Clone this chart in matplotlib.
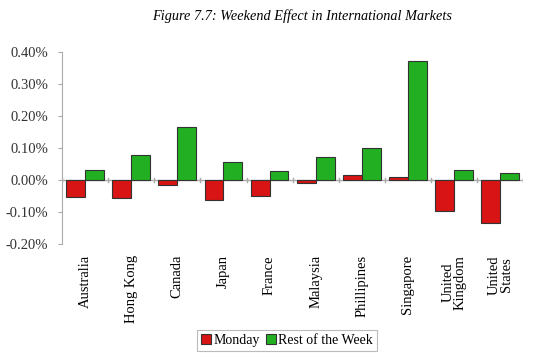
import numpy as np
import matplotlib
matplotlib.use("Agg")
import matplotlib.pyplot as plt
from matplotlib.ticker import FuncFormatter

plt.rcParams["font.family"] = ["Liberation Serif", "DejaVu Serif"]

countries = ["Australia", "Hong Kong", "Canada", "Japan", "France", "Malaysia",
             "Phillipines", "Singapore", "United\nKingdom", "United\nStates"]
monday = [-0.053, -0.057, -0.017, -0.061, -0.050, -0.010, 0.017, 0.009, -0.096, -0.135]
rest_week = [0.032, 0.079, 0.165, 0.056, 0.028, 0.072, 0.100, 0.371, 0.030, 0.021]

RED = "#d81414"; GREEN = "#22b022"; EDGE = "#333333"; GRAY = "#aaaaaa"

fig = plt.figure(figsize=(5.35, 3.62), dpi=100)
ax = fig.add_axes([0.116, 0.326, 0.862, 0.53])
x = np.arange(len(countries)); w = 0.41
ax.bar(x - w/2, monday, w, color=RED, edgecolor=EDGE, linewidth=0.8, label="Monday", zorder=3)
ax.bar(x + w/2, rest_week, w, color=GREEN, edgecolor=EDGE, linewidth=0.8, label="Rest of the Week", zorder=3)
ax.axhline(0, color=GRAY, lw=1, zorder=2)
ax.set_xlim(-0.5, len(countries) - 0.5)
ax.set_ylim(-0.2, 0.4)
ax.set_yticks(np.arange(-0.2, 0.41, 0.1))
ax.yaxis.set_major_formatter(FuncFormatter(lambda v, _: f"{v:.2f}%".replace("\u2212", "-")))
ax.set_xticks(x)
ax.set_xticklabels(countries, rotation=90, va="top", ha="center", fontsize=10.5, linespacing=0.95)
ax.tick_params(axis="x", length=0, pad=8)
ax.tick_params(axis="y", labelsize=10.5, colors="#333333", length=3, color=GRAY, pad=7)
for s in ["top", "right", "bottom"]:
    ax.spines[s].set_visible(False)
ax.spines["left"].set_color(GRAY)
for b in np.arange(len(countries) + 1) - 0.5:
    ax.plot([b, b], [-0.006, 0.006], color=GRAY, lw=1, zorder=2)

fig.text(0.565, 0.955, "Figure 7.7: Weekend Effect in International Markets",
         ha="center", va="center", fontsize=10.3, style="italic")
leg = fig.legend(loc="center", bbox_to_anchor=(0.537, 0.06), ncol=2, fontsize=10,
                 frameon=True, fancybox=False, edgecolor=GRAY, handlelength=0.7,
                 handleheight=0.7, handletextpad=0.2, columnspacing=0.4, borderpad=0.3)
leg.get_frame().set_linewidth(0.8)
fig.savefig("out.png", dpi=100)
